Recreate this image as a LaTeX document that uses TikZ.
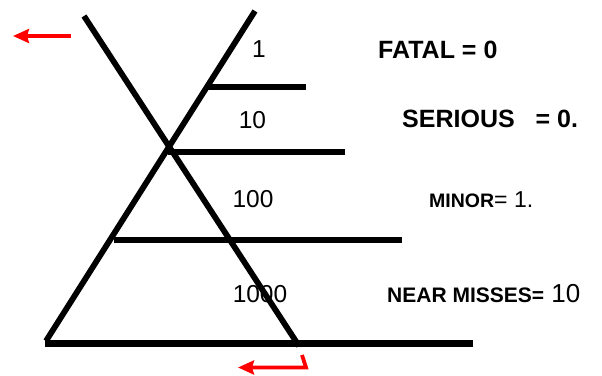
\documentclass[tikz,border=0pt]{standalone}
\usepackage{fontspec}
\setmainfont{Liberation Sans}
\usetikzlibrary{arrows.meta}
\newcommand{\fs}[1]{\fontsize{#1}{#1}\selectfont}
\begin{document}
\begin{tikzpicture}[x=1pt,y=-1pt,
  thick line/.style={line width=5.8pt,black},
  rung/.style={line width=5.2pt,black},
  base line/.style={line width=7pt,black},
  red arrow/.style={line width=3.8pt,red,-{Stealth[length=16pt,width=14pt,inset=2pt]}},
  num/.style={inner sep=0pt,anchor=base,font=\fs{24.5}},
  lbl/.style={inner sep=0pt,anchor=base west}]
\useasboundingbox (0,0) rectangle (602,375);
% main diagonals
\coordinate (atop) at (84,16);
\coordinate (abot) at (299,346);
\coordinate (btop) at (255,11);
\coordinate (bbot) at (46,341);
\draw[thick line] (atop) -- (abot);
\draw[thick line] (btop) -- (bbot);
% horizontal rungs
\coordinate (h1l) at (208,87);  \coordinate (h1r) at (306,87);
\coordinate (h2l) at (168,152); \coordinate (h2r) at (345,152);
\coordinate (h3l) at (114,240); \coordinate (h3r) at (402,240);
\coordinate (h4l) at (45,343.5); \coordinate (h4r) at (473,343.5);
\draw[rung] (h1l) -- (h1r);
\draw[rung] (h2l) -- (h2r);
\draw[rung] (h3l) -- (h3r);
\draw[base line] (h4l) -- (h4r);
% red arrows
\coordinate (r1s) at (71,36);
\coordinate (r1e) at (13,36);
\draw[red arrow] (r1s) -- (r1e);
\coordinate (r2s) at (302,355);
\coordinate (r2m) at (306,367.5);
\coordinate (r2e) at (238,367.5);
\draw[red arrow,line join=miter] (r2s) -- (r2m) -- (r2e);
% numbers
\node[num] (n1) at (259,57) {1};
\node[num] (n10) at (252.5,128) {10};
\node[num] (n100) at (253,207) {100};
\node[num] (n1000) at (260,302) {1000};
% labels
\node[lbl] (fatal) at (378,58) {\fs{25}\bfseries FATAL = 0};
\node[lbl] (serious) at (402,127) {\fs{25}\bfseries SERIOUS\ \ \ = 0.};
\node[lbl] (minor) at (429,207) {{\fs{19.5}\bfseries MINOR}{\fs{23}= 1.}};
\node[lbl] (near) at (387,302) {{\fs{21}\bfseries NEAR MISSES=}{\fs{26} 10}};
\end{tikzpicture}
\end{document}
